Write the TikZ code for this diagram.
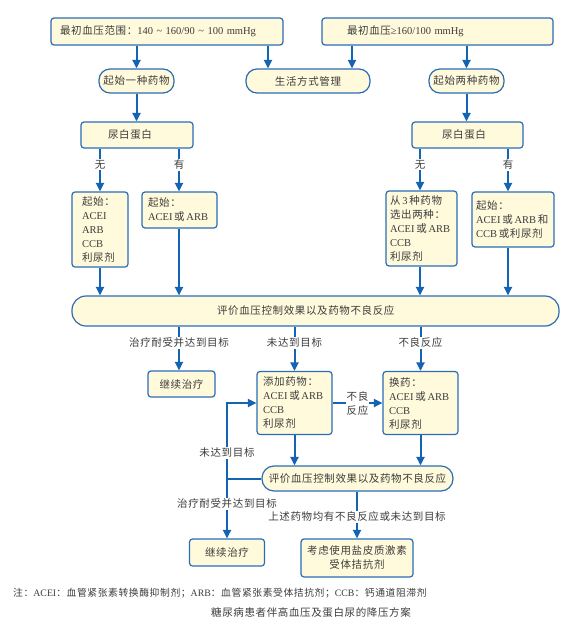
\documentclass[tikz,border=0pt]{standalone}
\usepackage{fontspec}
\setmainfont{Noto Sans CJK SC}[LetterSpace=6]
\newfontfamily\latin{Liberation Serif}
\newcommand{\en}[1]{{\latin #1}}
\usetikzlibrary{arrows.meta,positioning}
\definecolor{boxblue}{HTML}{2B6CB6}
\definecolor{boxfill}{HTML}{FFFADC}
\definecolor{arrblue}{HTML}{1464B4}
\definecolor{txtgray}{HTML}{3C3C3C}

\begin{document}
\begin{tikzpicture}[x=1pt,y=-1pt,font=\fontsize{10.5}{14}\selectfont]
    \tikzset{every node/.append style={text=txtgray}}
    \tikzset{flowbox/.style={draw=boxblue, fill=boxfill, line width=1.2pt, rounded corners=3pt, inner sep=0pt, align=left}}
    \tikzset{roundbox/.style={flowbox, rounded corners=11pt, align=center}}
    \tikzset{link/.style={draw=arrblue, line width=2pt}}
    \tikzset{arr/.style={link, -{Triangle[width=8pt,length=8.5pt]}}}
    \tikzset{lab/.style={fill=white, inner sep=1pt, align=center}}
    \useasboundingbox (0,0) rectangle (580,640);
    % first row
    \node [flowbox, inner xsep=9pt, text width=214pt, minimum height=27pt] (top1) at (167,31.5) {最初血压范围：\en{140 \textasciitilde\ 160/90 \textasciitilde\ 100 mmHg}};
    \node [flowbox, inner xsep=25pt, text width=181pt, minimum height=27pt] (top2) at (437.5,31.5) {最初血压\en{≥160/100 mmHg}};
    \node [roundbox, minimum width=75pt, minimum height=24pt] (one) at (136.5,81) {起始一种药物};
    \node [roundbox, minimum width=124pt, minimum height=24pt] (life) at (308,81) {生活方式管理};
    \node [roundbox, minimum width=75pt, minimum height=24pt] (two) at (466.5,81) {起始两种药物};
    \node [flowbox, inner xsep=27pt, text width=58pt, minimum height=26pt] (alb1) at (137,135) {尿白蛋白};
    \node [flowbox, inner xsep=30pt, text width=51pt, minimum height=26pt] (alb2) at (467.5,135) {尿白蛋白};
    % drug boxes
    \node [flowbox, inner xsep=10pt, text width=36pt, minimum height=75pt] (b1) at (100,229.5) {起始：\\\en{ACEI}\\\en{ARB}\\\en{CCB}\\利尿剂};
    \node [flowbox, inner xsep=6pt, text width=63pt, minimum height=36pt] (b2) at (179.5,210) {起始：\\\en{ACEI}\,或\,\en{ARB}};
    \node [flowbox, inner xsep=4pt, text width=63pt, minimum height=75pt] (b3) at (421.5,228.5) {从\,\en{3}\,种药物\\选出两种：\\\en{ACEI}\,或\,\en{ARB}\\\en{CCB}\\利尿剂};
    \node [flowbox, inner xsep=4pt, text width=74pt, minimum height=55pt] (b4) at (513,219.5) {起始：\\\en{ACEI}\,或\,\en{ARB}\,和\\\en{CCB}\,或利尿剂};
    \node [flowbox, rounded corners=14pt, inner xsep=145pt, text width=197pt, minimum height=30pt] (eval1) at (315.5,311) {评价血压控制效果以及药物不良反应};
    % second stage
    \node [flowbox, align=center, minimum width=67pt, minimum height=26pt] (cont1) at (181.5,384) {继续治疗};
    \node [flowbox, inner xsep=6pt, text width=63pt, minimum height=63pt] (add) at (294.5,403) {添加药物：\\\en{ACEI}\,或\,\en{ARB}\\\en{CCB}\\利尿剂};
    \node [flowbox, inner xsep=6pt, text width=63pt, minimum height=63pt] (swap) at (420.5,403) {换药：\\\en{ACEI}\,或\,\en{ARB}\\\en{CCB}\\利尿剂};
    \node [roundbox, rounded corners=12pt, minimum width=191pt, minimum height=25pt] (eval2) at (357.5,478.5) {评价血压控制效果以及药物不良反应};
    \node [flowbox, align=center, minimum width=75pt, minimum height=27pt] (cont2) at (227,552.5) {继续治疗};
    \node [flowbox, align=center, minimum width=112pt, minimum height=38pt] (mra) at (357,558) {考虑使用盐皮质激素\\受体拮抗剂};
    \coordinate (j) at (cont2.north |- eval2.west);
    % connectors
    \draw [arr] (one.north |- top1.south) -- (one.north);
    \draw [arr] ([xshift=-40pt]life.north |- top1.south) -- ([xshift=-40pt]life.north);
    \draw [arr] ([xshift=44pt]life.north |- top2.south) -- ([xshift=44pt]life.north);
    \draw [arr] (two.north |- top2.south) -- (two.north);
    \draw [arr] (one) -- (one.south |- alb1.north);
    \draw [arr] (two) -- (two.south |- alb2.north);
    \draw [arr] (b1.north |- alb1.south) -- (b1.north) node [lab, pos=0.38] {无};
    \draw [arr] ([xshift=-0.5pt]b2.north |- alb1.south) -- ([xshift=-0.5pt]b2.north) node [lab, pos=0.38] {有};
    \draw [arr] ([xshift=-1.5pt]b3.north |- alb2.south) -- ([xshift=-1.5pt]b3.north) node [lab, pos=0.38] {无};
    \draw [arr] ([xshift=-5pt]b4.north |- alb2.south) -- ([xshift=-5pt]b4.north) node [lab, pos=0.38] {有};
    \draw [arr] (b1) -- (b1.south |- eval1.north);
    \draw [arr] ([xshift=-0.5pt]b2.south) -- ([xshift=-0.5pt]b2.south |- eval1.north);
    \draw [arr] ([xshift=-1.5pt]b3.south) -- ([xshift=-1.5pt]b3.south |- eval1.north);
    \draw [arr] ([xshift=-5pt]b4.south) -- ([xshift=-5pt]b4.south |- eval1.north);
    \draw [arr] ([xshift=-2.5pt]cont1.north |- eval1.south) -- ([xshift=-2.5pt]cont1.north) node [lab, pos=0.37] {治疗耐受并达到目标};
    \draw [arr] (add.north |- eval1.south) -- (add.north) node [lab, pos=0.37] {未达到目标};
    \draw [arr] (swap.north |- eval1.south) -- (swap.north) node [lab, pos=0.37] {不良反应};
    \draw [arr] (add.east) -- (swap.west) node [lab, midway, inner sep=0.5pt] {不良\\反应};
    \draw [arr] (add) -- (add.south |- eval2.north);
    \draw [arr] (swap) -- (swap.south |- eval2.north);
    \draw [link] (eval2.west) -- (j);
    \draw [arr] (j) |- (add.west) node [lab, pos=0.17] {未达到目标};
    \draw [arr] (j) -- (cont2.north) node [lab, pos=0.42] {治疗耐受并达到目标};
    \draw [arr] (eval2.south -| mra.north) -- (mra.north) node [lab, pos=0.54] {上述药物均有不良反应或未达到目标};
    % note and caption
    \node [anchor=west, inner sep=0pt, font=\fontsize{9.8}{12}\selectfont] (note) at (13,593) {注：\en{ACEI}：血管紧张素转换酶抑制剂；\en{ARB}：血管紧张素受体拮抗剂；\en{CCB}：钙通道阻滞剂};
    \node [inner sep=0pt] (title) at (311,613) {糖尿病患者伴高血压及蛋白尿的降压方案};
\end{tikzpicture}
\end{document}
